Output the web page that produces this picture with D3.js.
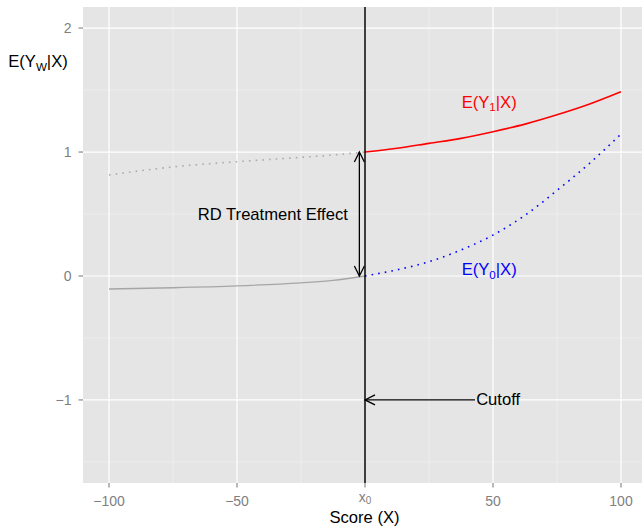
<!DOCTYPE html>
<html>
<head>
<meta charset="utf-8">
<script src="https://cdn.jsdelivr.net/npm/d3@7"></script>
<style>
  html, body { margin: 0; padding: 0; background: #ffffff; }
  svg { display: block; font-family: "Liberation Sans", Arial, Helvetica, sans-serif; }
</style>
</head>
<body>
<svg id="chart" width="642" height="526"></svg>
<script>
// Scores left of the cutoff (untreated region)
const xLeft = [-100, -75, -50, -25, -12.5, 0];
// E(Y0|X) observed (solid grey) and E(Y1|X) counterfactual (dotted grey) below the cutoff
const y0Left = [-0.105, -0.095, -0.08, -0.055, -0.036, 0];
const y1Left = [0.815, 0.88, 0.922, 0.957, 0.976, 1.0];

// Scores right of the cutoff (treated region)
const xRight = [0, 12.5, 25, 37.5, 50, 62.5, 75, 87.5, 100];
// E(Y1|X) observed (solid red) and E(Y0|X) counterfactual (dotted blue) above the cutoff
const y1Right = [1.0, 1.03, 1.07, 1.11, 1.164, 1.225, 1.30, 1.385, 1.486];
const y0Right = [0.0, 0.05, 0.115, 0.21, 0.33, 0.49, 0.69, 0.905, 1.145];

// Axis ticks
const xTicks = [-100, -50, 0, 50, 100];
const xTickLabels = ["−100", "−50", "x0", "50", "100"];
const xMinor = [-75, -25, 25, 75];
const yTicks = [-1, 0, 1, 2];
const yTickLabels = ["−1", "0", "1", "2"];
const yMinor = [-1.5, -0.5, 0.5, 1.5];

// Annotations
const cutoff = 0;
const effectArrowX = -2.2;
const effectRange = [0, 1];
const effectLabel = {x: -36, y: 0.5, text: "RD Treatment Effect"};
const cutoffArrow = {from: 43, to: 0, y: -1};
const cutoffLabel = {x: 52, y: -1, text: "Cutoff"};
const treatedLabel = {x: 48.5, y: 1.405};
const controlLabel = {x: 48.5, y: 0.055};

const svg = d3.select("#chart");
const W = 642, H = 526;
const panel = {left: 83, top: 7, bottom: 483};

const x = d3.scaleLinear().domain([-110, 110]).range([83.4, 646.6]);
const y = d3.scaleLinear().domain([-1.67, 2.17]).range([panel.bottom, panel.top]);

// Panel background
svg.append("rect")
  .attr("x", panel.left).attr("y", panel.top)
  .attr("width", W - panel.left).attr("height", panel.bottom - panel.top)
  .attr("fill", "#e5e5e5");

const grid = svg.append("g");
// Minor grid
grid.selectAll(".xminor").data(xMinor).join("line")
  .attr("x1", d => x(d)).attr("x2", d => x(d))
  .attr("y1", panel.top).attr("y2", panel.bottom)
  .attr("stroke", "#f2f2f2").attr("stroke-width", 0.6);
grid.selectAll(".yminor").data(yMinor).join("line")
  .attr("x1", panel.left).attr("x2", W)
  .attr("y1", d => y(d)).attr("y2", d => y(d))
  .attr("stroke", "#f2f2f2").attr("stroke-width", 0.6);
// Major grid
grid.selectAll(".xmajor").data(xTicks).join("line")
  .attr("x1", d => x(d)).attr("x2", d => x(d))
  .attr("y1", panel.top).attr("y2", panel.bottom)
  .attr("stroke", "#ffffff").attr("stroke-width", 1.2);
grid.selectAll(".ymajor").data(yTicks).join("line")
  .attr("x1", panel.left).attr("x2", W)
  .attr("y1", d => y(d)).attr("y2", d => y(d))
  .attr("stroke", "#ffffff").attr("stroke-width", 1.2);

// Curves
const line = d3.line().x(d => x(d[0])).y(d => y(d[1])).curve(d3.curveMonotoneX);
const zip = (a, b) => a.map((v, i) => [v, b[i]]);

svg.append("path").datum(zip(xLeft, y1Left)).attr("d", line)
  .attr("fill", "none").attr("stroke", "#ababab").attr("stroke-width", 1.6)
  .attr("stroke-dasharray", "1.6,5.1");
svg.append("path").datum(zip(xLeft, y0Left)).attr("d", line)
  .attr("fill", "none").attr("stroke", "#a6a6a6").attr("stroke-width", 1.3);
svg.append("path").datum(zip(xRight, y1Right)).attr("d", line)
  .attr("fill", "none").attr("stroke", "#ff0000").attr("stroke-width", 1.6);
svg.append("path").datum(zip(xRight, y0Right)).attr("d", line)
  .attr("fill", "none").attr("stroke", "#0000ff").attr("stroke-width", 1.6)
  .attr("stroke-dasharray", "1.6,5.1");

// Cutoff line
svg.append("line")
  .attr("x1", x(cutoff)).attr("x2", x(cutoff))
  .attr("y1", panel.top).attr("y2", panel.bottom)
  .attr("stroke", "#000").attr("stroke-width", 1.5);

// Open arrowhead helper
function arrowHead(g, tipX, tipY, dirX, dirY) {
  const len = 10, half = 5;
  const px = -dirY, py = dirX;
  g.append("path")
    .attr("d", `M${tipX - dirX * len + px * half},${tipY - dirY * len + py * half}L${tipX},${tipY}L${tipX - dirX * len - px * half},${tipY - dirY * len - py * half}`)
    .attr("fill", "none").attr("stroke", "#000").attr("stroke-width", 1.3);
}

// Treatment effect double arrow
const ea = svg.append("g");
ea.append("line")
  .attr("x1", x(effectArrowX)).attr("x2", x(effectArrowX))
  .attr("y1", y(effectRange[0])).attr("y2", y(effectRange[1]))
  .attr("stroke", "#000").attr("stroke-width", 1.3);
arrowHead(ea, x(effectArrowX), y(effectRange[1]), 0, -1);
arrowHead(ea, x(effectArrowX), y(effectRange[0]), 0, 1);

// Cutoff arrow
const ca = svg.append("g");
ca.append("line")
  .attr("x1", x(cutoffArrow.from)).attr("x2", x(cutoffArrow.to))
  .attr("y1", y(cutoffArrow.y)).attr("y2", y(cutoffArrow.y))
  .attr("stroke", "#000").attr("stroke-width", 1.3);
arrowHead(ca, x(cutoffArrow.to), y(cutoffArrow.y), -1, 0);

// Annotation text
const annoSize = 16.6;
svg.append("text").attr("x", x(effectLabel.x)).attr("y", y(effectLabel.y))
  .attr("text-anchor", "middle").attr("dominant-baseline", "central")
  .attr("font-size", annoSize).attr("fill", "#000").text(effectLabel.text);
svg.append("text").attr("x", x(cutoffLabel.x)).attr("y", y(cutoffLabel.y))
  .attr("text-anchor", "middle").attr("dominant-baseline", "central")
  .attr("font-size", annoSize).attr("fill", "#000").text(cutoffLabel.text);

function subLabel(parent, px, py, color, sub, size, anchor) {
  const t = parent.append("text").attr("x", px).attr("y", py)
    .attr("text-anchor", anchor).attr("font-size", size).attr("fill", color);
  t.append("tspan").text("E(Y");
  t.append("tspan").attr("font-size", size * 0.7).attr("dy", size * 0.22).text(sub);
  t.append("tspan").attr("dy", -size * 0.22).text("|X)");
  return t;
}
subLabel(svg, x(treatedLabel.x), y(treatedLabel.y) + 6, "#ff0000", "1", annoSize, "middle");
subLabel(svg, x(controlLabel.x), y(controlLabel.y) + 6, "#0000ff", "0", annoSize, "middle");

// Axes
const tickColor = "#7f7f7f";
const axX = svg.append("g");
axX.selectAll("line").data(xTicks).join("line")
  .attr("x1", d => x(d)).attr("x2", d => x(d))
  .attr("y1", panel.bottom).attr("y2", panel.bottom + 4.5)
  .attr("stroke", tickColor).attr("stroke-width", 1.1);
axX.selectAll("text").data(xTicks).join("text")
  .attr("x", d => x(d)).attr("y", (d, i) => xTickLabels[i] === "x0" ? 501.5 : 505.5)
  .attr("text-anchor", "middle").attr("font-size", 14).attr("fill", tickColor)
  .each(function(d, i) {
    const lab = xTickLabels[i];
    const t = d3.select(this);
    if (lab === "x0") {
      t.append("tspan").text("x");
      t.append("tspan").attr("font-size", 10).attr("dy", 2.5).text("0");
    } else {
      t.text(lab);
    }
  });

const axY = svg.append("g");
axY.selectAll("line").data(yTicks).join("line")
  .attr("x1", panel.left - 4.5).attr("x2", panel.left)
  .attr("y1", d => y(d)).attr("y2", d => y(d))
  .attr("stroke", tickColor).attr("stroke-width", 1.1);
axY.selectAll("text").data(yTicks).join("text")
  .attr("x", 71.5).attr("y", d => y(d))
  .attr("text-anchor", "end").attr("dominant-baseline", "central")
  .attr("font-size", 14).attr("fill", tickColor)
  .text((d, i) => yTickLabels[i]);

// Axis titles
svg.append("text").attr("x", 364.5).attr("y", 523)
  .attr("text-anchor", "middle").attr("font-size", 16.6).attr("fill", "#000")
  .text("Score (X)");
subLabel(svg, 38, 67, "#000", "W", 16.6, "middle");
</script>
</body>
</html>
